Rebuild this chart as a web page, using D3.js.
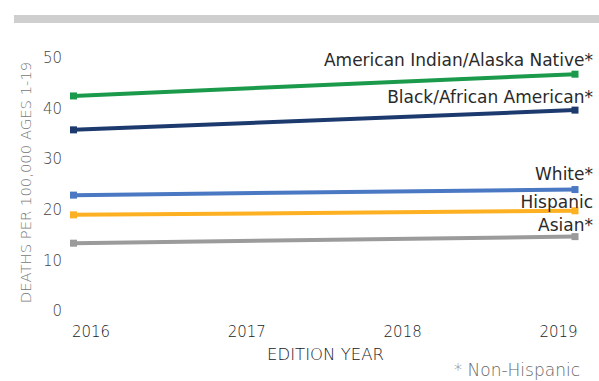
<!DOCTYPE html>
<html><head><meta charset="utf-8">
<script src="https://cdn.jsdelivr.net/npm/d3@7"></script>
<style>body{margin:0;background:#fff}svg{display:block}</style>
</head><body>
<svg id="c" width="599" height="381"></svg>
<script>
const years = [2016, 2019];
const tickYears = [2016, 2017, 2018, 2019];
const yTicks = [0, 10, 20, 30, 40, 50];
const seriesNames = ["American Indian/Alaska Native*", "Black/African American*", "White*", "Hispanic", "Asian*"];
const aianValues = [42.5, 46.8];
const blackValues = [35.8, 39.7];
const whiteValues = [22.9, 24.0];
const hispanicValues = [19.0, 19.8];
const asianValues = [13.4, 14.7];
const seriesColors = ["#1a9a4a", "#1d3a6e", "#4a78c3", "#fdb022", "#9b9b9b"];
const labelOffsets = [-8, -7, -10, -3, -6];

const series = [aianValues, blackValues, whiteValues, hispanicValues, asianValues].map((v, i) => ({
  name: seriesNames[i], color: seriesColors[i], values: v, off: labelOffsets[i]
}));

const svg = d3.select("#c");
const font = "'DejaVu Sans', sans-serif";

// top bar
svg.append("rect").attr("x", 14).attr("y", 15).attr("width", 585).attr("height", 8).attr("fill", "#cfcfcf");

const x = d3.scaleLinear().domain([2016, 2019]).range([73.5, 575]);
const xLab = d3.scaleLinear().domain([2016, 2019]).range([91, 558.5]);
const y = d3.scaleLinear().domain([0, 50]).range([311, 58]);

// y tick labels
svg.append("g").selectAll("text").data(yTicks).join("text")
  .attr("x", 62).attr("y", d => y(d)).attr("dy", "0.35em")
  .attr("text-anchor", "end").attr("font-family", font).attr("font-size", 15)
  .attr("font-weight", 300).attr("fill", "#444").text(d => d);

// x tick labels
svg.append("g").selectAll("text").data(tickYears).join("text")
  .attr("x", d => xLab(d)).attr("y", 336.5)
  .attr("text-anchor", "middle").attr("font-family", font).attr("font-size", 15)
  .attr("font-weight", 300).attr("fill", "#222").text(d => d);

// axis titles
svg.append("text").attr("transform", "translate(31,182.5) rotate(-90)")
  .attr("text-anchor", "middle").attr("font-family", font).attr("font-size", 14.8)
  .attr("font-weight", 300).attr("fill", "#777").text("DEATHS PER 100,000 AGES 1-19");
svg.append("text").attr("x", 325.5).attr("y", 360)
  .attr("text-anchor", "middle").attr("font-family", font).attr("font-size", 16.5)
  .attr("font-weight", 300).attr("fill", "#222").text("EDITION YEAR");
svg.append("text").attr("x", 580).attr("y", 376)
  .attr("text-anchor", "end").attr("font-family", font).attr("font-size", 17)
  .attr("font-weight", 300).attr("fill", "#666").text("* Non-Hispanic");

const line = d3.line().x((d, i) => x(years[i])).y(d => y(d));

const g = svg.append("g").selectAll("g").data(series).join("g");
g.append("path").attr("d", d => line(d.values)).attr("fill", "none")
  .attr("stroke", d => d.color).attr("stroke-width", 4);
g.selectAll("rect").data(d => d.values.map((v, i) => ({v, i, c: d.color}))).join("rect")
  .attr("x", d => x(years[d.i]) - 3.5).attr("y", d => y(d.v) - 3.5)
  .attr("width", 7).attr("height", 7).attr("fill", d => d.c);
g.append("text").attr("x", 593).attr("y", d => y(d.values[1]) + d.off)
  .attr("text-anchor", "end").attr("font-family", font).attr("font-size", 17)
  .attr("fill", "#2a2a2a").text(d => d.name);
</script>
</body></html>
